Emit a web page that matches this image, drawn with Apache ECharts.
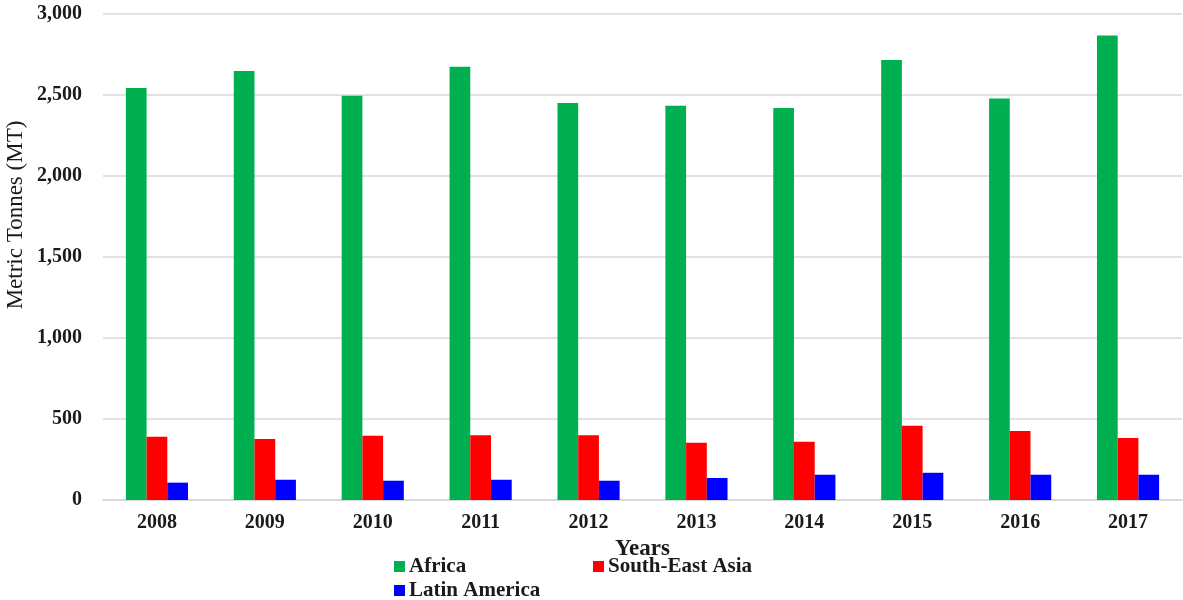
<!DOCTYPE html>
<html>
<head>
<meta charset="utf-8">
<script src="https://cdn.jsdelivr.net/npm/echarts@6/dist/echarts.min.js"></script>
<style>
  html, body { margin: 0; padding: 0; background: #ffffff; }
  #chart { width: 1183px; height: 600px; }
</style>
</head>
<body>
<div id="chart"></div>
<script>
// Production by region, metric tonnes
const years = ['2008', '2009', '2010', '2011', '2012', '2013', '2014', '2015', '2016', '2017'];
const africa = [2543, 2648, 2496, 2675, 2451, 2434, 2420, 2716, 2479, 2868];
const southEastAsia = [391, 376, 397, 399, 399, 354, 360, 459, 426, 383];
const latinAmerica = [107, 125, 119, 125, 119, 136, 156, 168, 156, 156];

const FONT = '"Liberation Serif", "DejaVu Serif", serif';

const chart = echarts.init(document.getElementById('chart'), null, { renderer: 'canvas' });

function legendAt(name, left, top) {
  return {
    data: [name],
    left: left,
    top: top,
    padding: 0,
    orient: 'horizontal',
    itemWidth: 11,
    itemHeight: 11,
    itemGap: 0,
    icon: 'rect',
    selectedMode: false,
    textStyle: { fontFamily: FONT, fontWeight: 'bold', fontSize: 21, color: '#1a1a1a', padding: [0, 0, 0, -1] }
  };
}

chart.setOption({
  animation: false,
  backgroundColor: '#ffffff',
  grid: { left: 103, right: 1, top: 14, bottom: 100, containLabel: false },
  legend: [
    legendAt('Africa', 394, 556),
    legendAt('South-East Asia', 593, 556),
    legendAt('Latin America', 394, 580)
  ],
  graphic: [{
    type: 'text',
    x: 16,
    y: 215,
    rotation: Math.PI / 2,
    style: {
      text: 'Metric Tonnes (MT)',
      font: '23px ' + FONT,
      fill: '#1a1a1a',
      align: 'center',
      verticalAlign: 'middle'
    }
  }],
  xAxis: {
    type: 'category',
    data: years,
    name: 'Years',
    nameLocation: 'middle',
    nameGap: 36,
    nameTextStyle: { fontFamily: FONT, fontWeight: 'bold', fontSize: 23, color: '#1a1a1a' },
    axisLine: { show: true, lineStyle: { color: '#d9d9d9', width: 2 } },
    axisTick: { show: false },
    axisLabel: { fontFamily: FONT, fontWeight: 'bold', fontSize: 20, color: '#1a1a1a', margin: 13 }
  },
  yAxis: {
    type: 'value',
    min: 0,
    max: 3000,
    interval: 500,
    axisLine: { show: false },
    axisTick: { show: false },
    splitLine: { lineStyle: { color: '#d9d9d9', width: 1.5 } },
    axisLabel: {
      fontFamily: FONT, fontWeight: 'bold', fontSize: 20, color: '#1a1a1a', margin: 21,
      formatter: v => v.toLocaleString('en-US')
    }
  },
  series: [
    { name: 'Africa', type: 'bar', data: africa, itemStyle: { color: '#00B050' }, barWidth: '19.2%', barGap: '0%' },
    { name: 'South-East Asia', type: 'bar', data: southEastAsia, itemStyle: { color: '#FF0000' }, barWidth: '19.2%', barGap: '0%' },
    { name: 'Latin America', type: 'bar', data: latinAmerica, itemStyle: { color: '#0000FF' }, barWidth: '19.2%', barGap: '0%' }
  ]
});
</script>
</body>
</html>
